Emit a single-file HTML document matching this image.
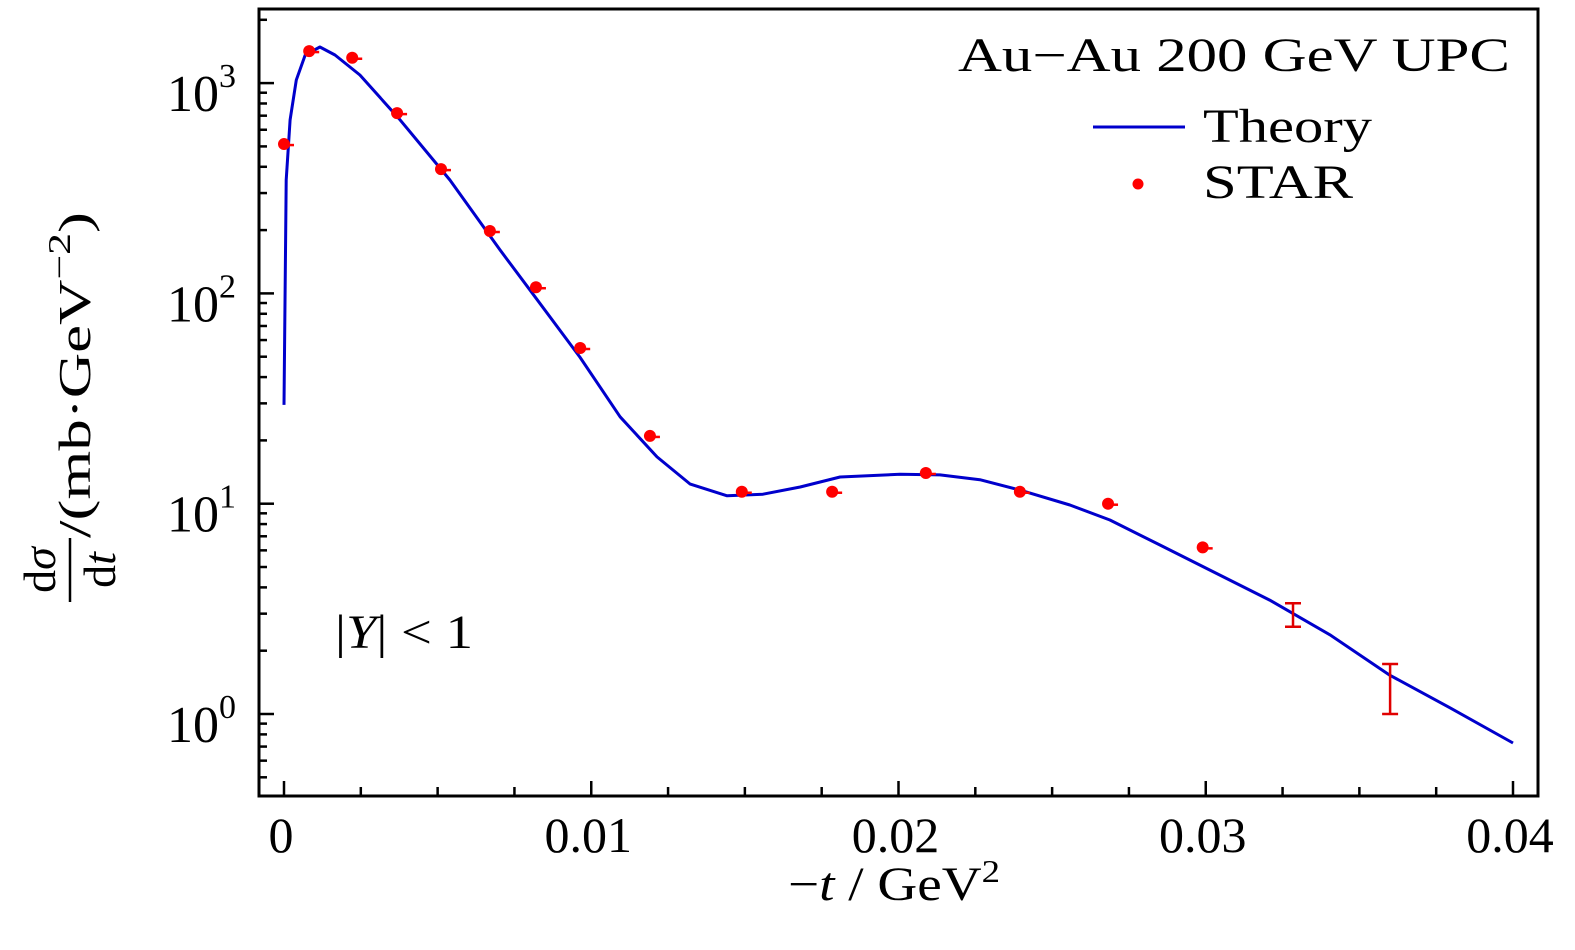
<!DOCTYPE html>
<html><head><meta charset="utf-8"><style>
body{margin:0;background:#fff}
svg text{font-family:"Liberation Serif","DejaVu Serif",serif;fill:#000}
</style></head><body>
<svg id="c" width="1575" height="945" viewBox="0 0 1575 945" xmlns="http://www.w3.org/2000/svg">
<rect x="259" y="9" width="1279" height="787" fill="none" stroke="#000" stroke-width="3"/>
<g id="axes"></g>
<g id="series"></g>
<text x="958" y="71" font-size="48" textLength="552" lengthAdjust="spacingAndGlyphs">Au−Au 200 GeV UPC</text>
<line x1="1093" y1="127" x2="1185" y2="127" stroke="#0000cc" stroke-width="3"/>
<text x="1203" y="142" font-size="48" textLength="169" lengthAdjust="spacingAndGlyphs">Theory</text>
<circle cx="1138" cy="184" r="5.5" fill="#ff0000"/>
<text x="1203" y="198" font-size="48" textLength="150" lengthAdjust="spacingAndGlyphs">STAR</text>
<text x="335" y="648" font-size="48" textLength="138" lengthAdjust="spacingAndGlyphs">|<tspan font-style="italic">Y</tspan>| &lt; 1</text>
<text x="788" y="900" font-size="48" textLength="212" lengthAdjust="spacingAndGlyphs">−<tspan font-style="italic">t</tspan> / GeV<tspan font-size="32" dy="-18">2</tspan></text>
<g transform="rotate(-90)">
<text x="-570" y="55" font-size="46" text-anchor="middle">d<tspan font-style="italic">σ</tspan></text>
<line x1="-602" y1="70" x2="-538" y2="70" stroke="#000" stroke-width="2.5"/>
<text x="-570" y="115" font-size="46" text-anchor="middle">d<tspan font-style="italic">t</tspan></text>
<text x="-538" y="90" font-size="46" textLength="326" lengthAdjust="spacingAndGlyphs">/(mb·GeV<tspan font-size="32" dy="-20">−2</tspan><tspan dy="20">)</tspan></text>
</g>
</svg>
<script>
const starT=[0,0.00082,0.00222,0.00368,0.00511,0.0067,0.0082,0.00964,0.01191,0.0149,0.01784,0.02089,0.02395,0.02682,0.0299,0.03284,0.036];
const starV=[513,1420,1320,720,390,198,107,55,21,11.4,11.4,14,11.4,10,6.2,3.0,1.35];
const starErrHi=[0,0,0,0,0,0,0,0,0,0,0,0,0,0,0,3.36,1.73];
const starErrLo=[0,0,0,0,0,0,0,0,0,0,0,0,0,0,0,2.6,1.0];
const theoryT=[0,0.00007,0.0002,0.0004,0.00069,0.00117,0.00166,0.00247,0.00378,0.0054,0.00703,0.008,0.00963,0.01094,0.01214,0.01322,0.01442,0.01559,0.0168,0.0181,0.02005,0.02135,0.02265,0.02395,0.02558,0.02688,0.0285,0.03013,0.03208,0.03404,0.03599,0.03795,0.04];
const theoryV=[29.5,346,668,1035,1360,1485,1360,1093,668,346,161,104,49.8,25.9,16.7,12.4,10.9,11.1,12.0,13.4,13.8,13.7,13,11.6,9.86,8.37,6.37,4.84,3.48,2.38,1.53,1.07,0.728];
const xTicks=[0,0.01,0.02,0.03,0.04];
const xTickLabels=["0","0.01","0.02","0.03","0.04"];
const yExp=[0,1,2,3];
const NS='http://www.w3.org/2000/svg';
const X=t=>284+t*30725;
const Y=v=>714-Math.log10(v)*210.3;
const ax=document.getElementById('axes'),se=document.getElementById('series');
function mk(tag,at,par){const e=document.createElementNS(NS,tag);for(const k in at)e.setAttribute(k,at[k]);par.appendChild(e);return e;}
for(let i=0;i<=16;i++){const t=i*0.0025,x=X(t),maj=i%4===0;
 const l=mk('line',{x1:x,x2:x,y1:796,y2:796-(maj?15:9),stroke:'#000','stroke-width':2.5},ax);
 
 }
xTicks.forEach((t,i)=>{const tx=mk('text',{x:X(t)-3,y:852,'font-size':50,'text-anchor':'middle'},ax);tx.textContent=xTickLabels[i];
 
 });
for(let d=-1;d<=3;d++){for(let m=1;m<=9;m++){const v=m*Math.pow(10,d),y=Y(v);if(y<10||y>795)continue;
 const l=mk('line',{x1:259,x2:259+(m===1?15:8),y1:y,y2:y,stroke:'#000','stroke-width':2.5},ax);
 
 }}
yExp.forEach(e=>{const tx=mk('text',{x:236,y:Y(Math.pow(10,e))+28,'font-size':52,'text-anchor':'end'},ax);
 tx.innerHTML='10<tspan font-size="34" dy="-24">'+e+'</tspan>';
 
 });
const path=mk('path',{d:theoryT.map((t,i)=>(i?'L':'M')+X(t).toFixed(1)+','+Y(theoryV[i]).toFixed(1)).join(''),fill:'none',stroke:'#0000cc','stroke-width':3,'stroke-linejoin':'round'},se);


starT.forEach((t,i)=>{const x=X(t);
 if(starErrHi[i]>0){const g=mk('g',{stroke:'#e00000','stroke-width':2.5},se);
  
  
  const y1=Y(starErrHi[i]),y2=Y(starErrLo[i]);
  mk('line',{x1:x,x2:x,y1:y1,y2:y2},g);mk('line',{x1:x-8,x2:x+8,y1:y1,y2:y1},g);mk('line',{x1:x-8,x2:x+8,y1:y2,y2:y2},g);}
 else{const c=mk('circle',{cx:x,cy:Y(starV[i]),r:6,fill:'#ff0000'},se);
  
  
  mk('line',{x1:x-2,x2:x+10,y1:Y(starV[i])+1,y2:Y(starV[i])+1,stroke:'#ff0000','stroke-width':2.5},se);}
});
</script>
</body></html>
